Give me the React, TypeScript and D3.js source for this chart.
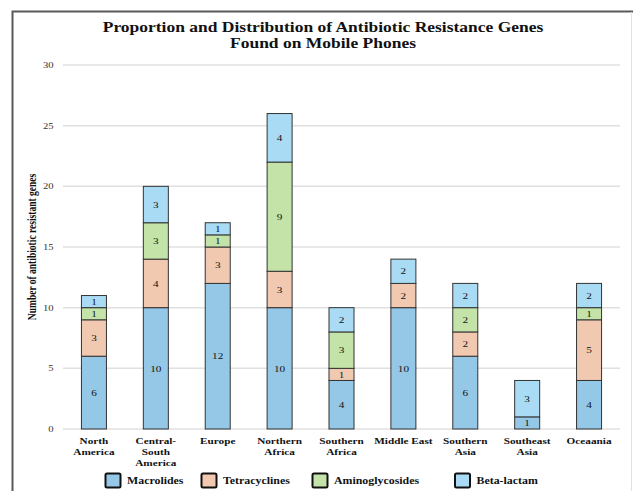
import React from "react";
import * as d3 from "d3";

// Regions and resistance-gene counts per antibiotic class
const regions = [
  "North America",
  "Central-South America",
  "Europe",
  "Northern Africa",
  "Southern Africa",
  "Middle East",
  "Southern Asia",
  "Southeast Asia",
  "Oceaania",
];
const regionLines = [
  ["North", "America"],
  ["Central-", "South", "America"],
  ["Europe"],
  ["Northern", "Africa"],
  ["Southern", "Africa"],
  ["Middle East"],
  ["Southern", "Asia"],
  ["Southeast", "Asia"],
  ["Oceaania"],
];
const macrolides = [6, 10, 12, 10, 4, 10, 6, 1, 4];
const tetracyclines = [3, 4, 3, 3, 1, 2, 2, 0, 5];
const aminoglycosides = [1, 3, 1, 9, 3, 0, 2, 0, 1];
const betaLactam = [1, 3, 1, 4, 2, 2, 2, 3, 2];
const seriesNames = ["Macrolides", "Tetracyclines", "Aminoglycosides", "Beta-lactam"];
const yTicks = [0, 5, 10, 15, 20, 25, 30];

const colors = ["#95c7e7", "#f1c9b1", "#c4e3a8", "#a9dcf4"];
const FONT = "'Liberation Serif', 'Times New Roman', serif";
const SX = 1.25; // horizontal text stretch

function T({ x, y, size, bold, anchor = "middle", fill = "#111", children, rotate = 0 }: any) {
  const tr = rotate
    ? `translate(${x},${y}) rotate(${rotate}) scale(1,${SX})`
    : `translate(${x},${y}) scale(${SX},1)`;
  return (
    <text
      transform={tr}
      fontFamily={FONT}
      fontSize={size}
      fontWeight={bold ? "bold" : "normal"}
      textAnchor={anchor}
      fill={fill}
    >
      {children}
    </text>
  );
}

export default function App() {
  const W = 633;
  const H = 491;
  const x = d3
    .scaleBand<string>()
    .domain(regions)
    .range([63, 620])
    .paddingInner(0.596)
    .paddingOuter(0.298);
  const y = d3.scaleLinear().domain([0, 30]).range([429, 65]);

  const table = regions.map((r, i) => ({
    region: r,
    Macrolides: macrolides[i],
    Tetracyclines: tetracyclines[i],
    Aminoglycosides: aminoglycosides[i],
    "Beta-lactam": betaLactam[i],
  }));
  const stacked = d3.stack<any>().keys(seriesNames)(table);

  const legendX = [105.5, 201.5, 312.5, 455];

  return (
    <svg
      width={W}
      height={H}
      style={{ position: "absolute", left: 0, top: 0, background: "#fff" }}
    >
      {/* frame */}
      <path d={`M12.5,${H} V11.5 H${W}`} fill="none" stroke="#5a5a5a" strokeWidth={2} />
      <line x1={631.5} x2={631.5} y1={12} y2={H} stroke="#e2e2e2" strokeWidth={1} />

      {/* title */}
      <T x={323} y={32} size={14} bold>
        Proportion and Distribution of Antibiotic Resistance Genes
      </T>
      <T x={323} y={48} size={14} bold>
        Found on Mobile Phones
      </T>

      {/* gridlines and y ticks */}
      {yTicks.map((t) => (
        <g key={t}>
          <line x1={63} x2={620} y1={y(t)} y2={y(t)} stroke="#e0e0e0" strokeWidth={1.5} />
          <T x={53.5} y={y(t) + 3} size={8.5} anchor="end" fill="#333">
            {t}
          </T>
        </g>
      ))}
      <T x={36} y={247} size={9.5} bold rotate={-90}>
        Number of antibiotic resistant genes
      </T>

      {/* stacked bars */}
      {stacked.map((s, si) =>
        s.map((d, i) => {
          const v = d[1] - d[0];
          if (v <= 0) return null;
          const bx = x(regions[i])!;
          const y0 = y(d[0]);
          const y1 = y(d[1]);
          return (
            <g key={`${si}-${i}`}>
              <rect
                x={bx}
                y={y1}
                width={x.bandwidth()}
                height={y0 - y1}
                fill={colors[si]}
                stroke="#333"
                strokeWidth={1}
              />
              <T x={bx + x.bandwidth() / 2} y={(y0 + y1) / 2 + 3.2} size={9}>
                {v}
              </T>
            </g>
          );
        })
      )}

      {/* x labels */}
      {regionLines.map((lines, i) =>
        lines.map((ln, j) => (
          <T
            key={`${i}-${j}`}
            x={x(regions[i])! + x.bandwidth() / 2}
            y={443.5 + j * 11}
            size={9}
            bold
          >
            {ln}
          </T>
        ))
      )}

      {/* legend */}
      {seriesNames.map((n, i) => (
        <g key={n}>
          <rect
            x={legendX[i]}
            y={473.5}
            width={15}
            height={14}
            rx={1.5}
            fill={colors[i]}
            stroke="#111"
            strokeWidth={2}
          />
          <T x={legendX[i] + 21.5} y={484} size={9.5} bold anchor="start">
            {n}
          </T>
        </g>
      ))}
    </svg>
  );
}
